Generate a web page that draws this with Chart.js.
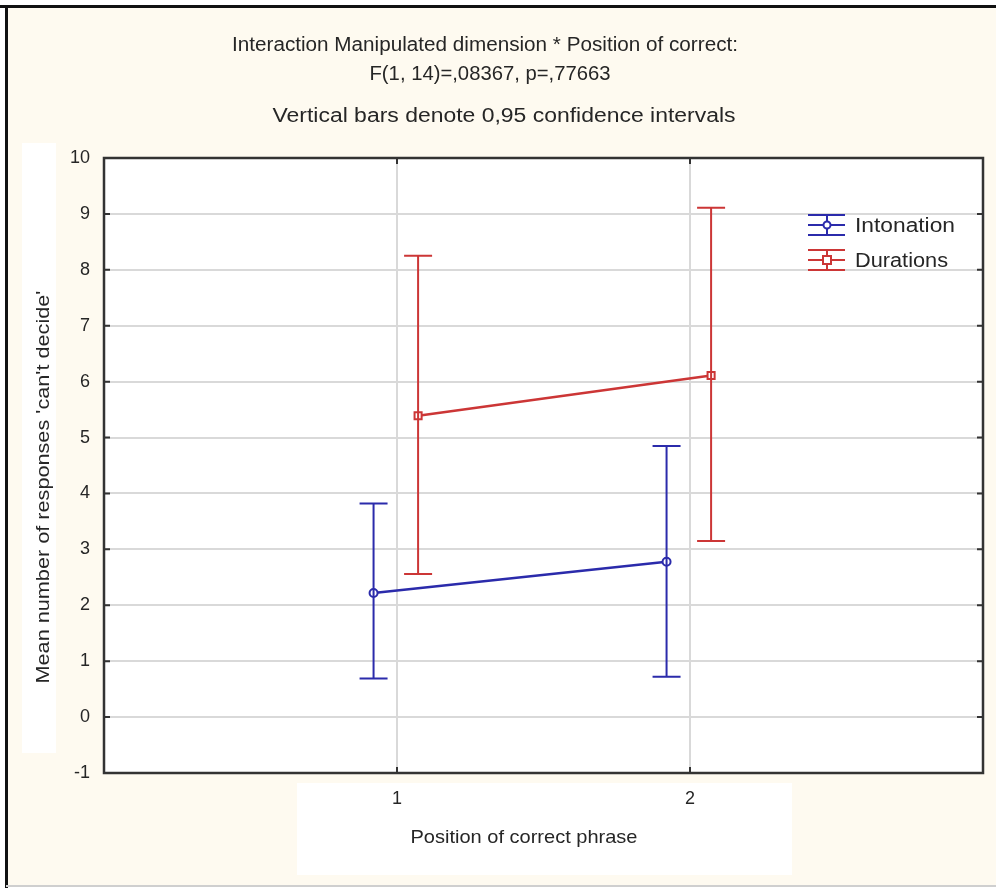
<!DOCTYPE html>
<html>
<head>
<meta charset="utf-8">
<script src="https://cdn.jsdelivr.net/npm/chart.js@4/dist/chart.umd.min.js"></script>
<style>
  html, body { margin: 0; padding: 0; background: #fff; }
  #wrap { width: 996px; height: 888px; position: relative; }
</style>
</head>
<body>
<div id="wrap"><canvas id="chart" width="996" height="888"></canvas></div>
<script>
const positions = [1, 2];
const xTicks = [1, 2];
const yTicks = [-1, 0, 1, 2, 3, 4, 5, 6, 7, 8, 9, 10];

const intonationMean = [2.22, 2.78];
const intonationLow = [0.69, 0.72];
const intonationHigh = [3.82, 4.85];

const durationsMean = [5.39, 6.11];
const durationsLow = [2.56, 3.15];
const durationsHigh = [8.25, 9.11];

const titleLines = [
  "Interaction Manipulated dimension * Position of correct:",
  "F(1, 14)=,08367, p=,77663",
  "Vertical bars denote 0,95 confidence intervals",
];
const xTitle = "Position of correct phrase";
const yTitle = "Mean number of responses 'can't decide'";

const BLUE = "#2b2bab";
const RED = "#cc3636";
const INK = "#262626";
const FONT = "'Liberation Sans', Arial, sans-serif";

// small horizontal dodge so the two series don't overlap
const dodgeInto = -0.08;
const dodgeDur = 0.072;

const series = [
  { label: "Intonation", color: BLUE, mean: intonationMean, low: intonationLow, high: intonationHigh, dodge: dodgeInto, marker: "circle" },
  { label: "Durations", color: RED, mean: durationsMean, low: durationsLow, high: durationsHigh, dodge: dodgeDur, marker: "rect" },
];

// squeeze/stretch text to the width it has in the original
function fitText(ctx, text, x, y, width) {
  const w = ctx.measureText(text).width;
  ctx.save();
  ctx.translate(x, y);
  ctx.scale(width / w, 1);
  ctx.fillText(text, 0, 0);
  ctx.restore();
}

const backdrop = {
  id: "backdrop",
  beforeDraw(chart) {
    const { ctx, chartArea: a } = chart;
    ctx.save();
    ctx.fillStyle = "#fff";
    ctx.fillRect(0, 0, 996, 888);
    ctx.fillStyle = "#fefaf0";
    ctx.fillRect(6, 7, 990, 879);
    ctx.fillStyle = "#ffffff";
    ctx.fillRect(22, 143, 34, 610);
    ctx.fillRect(297, 783, 495, 92);
    ctx.fillRect(a.left, a.top, a.right - a.left, a.bottom - a.top);
    // outer frame: heavy top/left, light bottom
    ctx.fillStyle = "#111";
    ctx.fillRect(0, 5, 996, 3);
    ctx.fillRect(5, 5, 3, 883);
    ctx.fillStyle = "#cfcfcf";
    ctx.fillRect(6, 885, 990, 2);
    ctx.restore();
  },
};

const errorBars = {
  id: "errorBars",
  afterDatasetsDraw(chart) {
    const { ctx, scales: { x, y } } = chart;
    ctx.save();
    ctx.lineWidth = 2;
    series.forEach((s) => {
      ctx.strokeStyle = s.color;
      positions.forEach((p, i) => {
        const px = x.getPixelForValue(p + s.dodge);
        const yl = y.getPixelForValue(s.low[i]);
        const yh = y.getPixelForValue(s.high[i]);
        ctx.beginPath();
        ctx.moveTo(px, yl);
        ctx.lineTo(px, yh);
        ctx.moveTo(px - 14, yl);
        ctx.lineTo(px + 14, yl);
        ctx.moveTo(px - 14, yh);
        ctx.lineTo(px + 14, yh);
        ctx.stroke();
      });
    });
    ctx.restore();
  },
};

const decorations = {
  id: "decorations",
  afterDraw(chart) {
    const { ctx, chartArea: a, scales: { x, y } } = chart;
    ctx.save();

    // plot frame
    ctx.strokeStyle = "#333";
    ctx.lineWidth = 2.5;
    ctx.strokeRect(a.left, a.top, a.right - a.left, a.bottom - a.top);

    // inner tick marks
    ctx.lineWidth = 2;
    ctx.beginPath();
    yTicks.forEach((v) => {
      const py = y.getPixelForValue(v);
      ctx.moveTo(a.left, py);
      ctx.lineTo(a.left + 6, py);
      ctx.moveTo(a.right, py);
      ctx.lineTo(a.right - 6, py);
    });
    xTicks.forEach((v) => {
      const px = x.getPixelForValue(v);
      ctx.moveTo(px, a.bottom);
      ctx.lineTo(px, a.bottom - 6);
      ctx.moveTo(px, a.top);
      ctx.lineTo(px, a.top + 6);
    });
    ctx.stroke();

    // titles
    ctx.fillStyle = INK;
    ctx.textAlign = "center";
    ctx.textBaseline = "middle";
    ctx.font = "20px " + FONT;
    fitText(ctx, titleLines[0], 485, 45, 506);
    fitText(ctx, titleLines[1], 490, 74, 241);
    fitText(ctx, titleLines[2], 504, 116, 463);

    // axis titles
    ctx.font = "19px " + FONT;
    fitText(ctx, xTitle, 524, 838, 227);
    ctx.save();
    ctx.translate(44, 487);
    ctx.rotate(-Math.PI / 2);
    fitText(ctx, yTitle, 0, 0, 393);
    ctx.restore();

    // legend
    ctx.textAlign = "left";
    ctx.font = "20px " + FONT;
    const legendWidths = [100, 93];
    series.forEach((s, i) => {
      const cy = 225 + i * 35;
      const x0 = 808, x1 = 845, mx = 827;
      ctx.strokeStyle = s.color;
      ctx.lineWidth = 2;
      ctx.beginPath();
      ctx.moveTo(x0, cy - 10); ctx.lineTo(x1, cy - 10);
      ctx.moveTo(x0, cy); ctx.lineTo(x1, cy);
      ctx.moveTo(x0, cy + 10); ctx.lineTo(x1, cy + 10);
      ctx.moveTo(mx, cy - 10); ctx.lineTo(mx, cy + 10);
      ctx.stroke();
      ctx.fillStyle = "#fff";
      ctx.beginPath();
      if (s.marker === "circle") ctx.arc(mx, cy, 3.5, 0, Math.PI * 2);
      else ctx.rect(mx - 4, cy - 4, 8, 8);
      ctx.fill();
      ctx.stroke();
      ctx.fillStyle = INK;
      fitText(ctx, s.label, 855, cy + 1, legendWidths[i]);
    });

    ctx.restore();
  },
};

new Chart(document.getElementById("chart"), {
  type: "line",
  data: {
    datasets: series.map((s) => ({
      label: s.label,
      data: positions.map((p, i) => ({ x: p + s.dodge, y: s.mean[i] })),
      borderColor: s.color,
      borderWidth: 2.5,
      pointStyle: s.marker,
      pointRadius: s.marker === "rect" ? 5 : 4,
      pointBorderWidth: 2,
      pointBackgroundColor: "#fff",
      pointBorderColor: s.color,
      tension: 0,
    })),
  },
  options: {
    responsive: false,
    animation: false,
    layout: { padding: { top: 158, right: 13, left: 0, bottom: 0 } },
    plugins: {
      legend: { display: false },
      tooltip: { enabled: false },
    },
    scales: {
      x: {
        type: "linear",
        min: 0,
        max: 3,
        afterBuildTicks: (scale) => { scale.ticks = xTicks.map((v) => ({ value: v })); },
        afterFit: (scale) => { scale.height = 115; },
        ticks: { color: INK, font: { family: FONT, size: 18 }, padding: 15 },
        grid: { color: "#d9d9d9", lineWidth: 2, drawTicks: false },
        border: { display: false },
      },
      y: {
        min: -1,
        max: 10,
        afterBuildTicks: (scale) => { scale.ticks = yTicks.map((v) => ({ value: v })); },
        afterFit: (scale) => { scale.width = 104; },
        ticks: { color: INK, font: { family: FONT, size: 18 }, padding: 14 },
        grid: { color: "#d9d9d9", lineWidth: 2, drawTicks: false },
        border: { display: false },
      },
    },
  },
  plugins: [backdrop, errorBars, decorations],
});
</script>
</body>
</html>
